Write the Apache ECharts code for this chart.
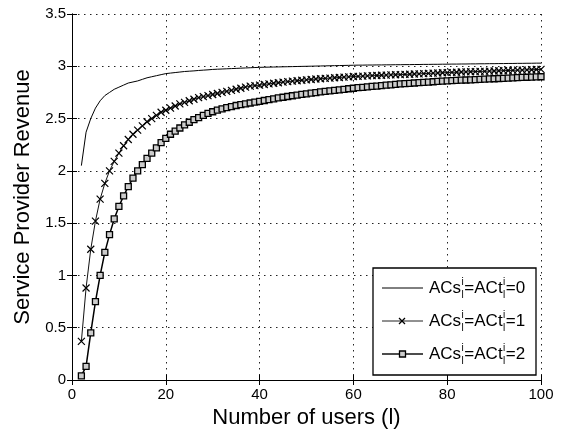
<!DOCTYPE html>
<html>
<head>
<meta charset="utf-8">
<script src="https://cdn.jsdelivr.net/npm/echarts@6/dist/echarts.min.js"></script>
<style>
  html, body { margin: 0; padding: 0; background: #fff; }
  #chart { width: 562px; height: 430px; }
</style>
</head>
<body>
<div id="chart"></div>
<script>
// number of users, 2..100
const users = Array.from({length: 99}, (_, i) => i + 2);

// ACs=ACt=0 (plain line)
const revenue0 = [
  2.05, 2.37, 2.50, 2.60, 2.67, 2.72, 2.75, 2.78, 2.80, 2.82, 2.84, 2.85, 2.86, 2.875, 2.89, 2.90, 2.91, 2.92, 2.93,
  2.935, 2.94, 2.945, 2.95, 2.953, 2.956, 2.96, 2.963, 2.966, 2.97,
  2.972, 2.974, 2.976, 2.978, 2.98, 2.982, 2.984, 2.986, 2.988, 2.99,
  2.991, 2.992, 2.993, 2.994, 2.995, 2.996, 2.997, 2.998, 2.999, 3.0, 3.001, 3.002, 3.003, 3.004, 3.005, 3.006, 3.007, 3.008, 3.009, 3.01,
  3.011, 3.011, 3.012, 3.012, 3.013, 3.013, 3.014, 3.014, 3.015, 3.015, 3.016, 3.016, 3.017, 3.017, 3.018, 3.018, 3.019, 3.019, 3.02, 3.02,
  3.021, 3.021, 3.022, 3.022, 3.023, 3.023, 3.024, 3.024, 3.025, 3.025, 3.026, 3.026, 3.027, 3.027, 3.028, 3.028, 3.029, 3.029, 3.03, 3.03
];

// ACs=ACt=1 (x markers)
const revenue1 = [
  0.37, 0.88, 1.25, 1.52, 1.73, 1.88, 2.00, 2.09, 2.17, 2.24, 2.30, 2.35, 2.39, 2.43, 2.47, 2.50, 2.53, 2.56, 2.58,
  2.60, 2.62, 2.64, 2.655, 2.67, 2.685, 2.70, 2.71, 2.72, 2.73, 2.74, 2.75, 2.76, 2.77, 2.78, 2.79, 2.80, 2.81, 2.815, 2.82,
  2.826, 2.832, 2.838, 2.843, 2.848, 2.853, 2.858, 2.862, 2.866, 2.87, 2.874, 2.878, 2.881, 2.884, 2.887, 2.89, 2.893, 2.896, 2.899, 2.902,
  2.904, 2.906, 2.908, 2.91, 2.912, 2.914, 2.916, 2.918, 2.919, 2.92,
  2.922, 2.924, 2.926, 2.928, 2.93, 2.932, 2.934, 2.936, 2.938, 2.94, 2.942, 2.943, 2.945, 2.946, 2.948, 2.949, 2.951, 2.952, 2.954, 2.955,
  2.957, 2.958, 2.96, 2.961, 2.963, 2.964, 2.966, 2.967, 2.969, 2.97
];

// ACs=ACt=2 (square markers)
const revenue2 = [
  0.04, 0.13, 0.45, 0.75, 1.00, 1.22, 1.39, 1.54, 1.66, 1.76, 1.85, 1.93, 2.00, 2.06, 2.12, 2.17, 2.22, 2.27, 2.31,
  2.35, 2.38, 2.41, 2.44, 2.465, 2.49, 2.51, 2.53, 2.55, 2.565, 2.58, 2.593, 2.605, 2.615, 2.625, 2.633, 2.641, 2.649, 2.657, 2.665,
  2.673, 2.681, 2.689, 2.697, 2.704, 2.711, 2.718, 2.725, 2.731, 2.737, 2.743, 2.749, 2.755, 2.76,
  2.765, 2.77, 2.775, 2.78, 2.785, 2.79, 2.795, 2.799, 2.803, 2.807, 2.811, 2.815, 2.819, 2.823, 2.827, 2.831,
  2.834, 2.837, 2.84, 2.843, 2.846, 2.849, 2.852, 2.855, 2.858, 2.861, 2.863, 2.865, 2.867, 2.869, 2.871, 2.873, 2.875, 2.877, 2.879, 2.881,
  2.883, 2.885, 2.887, 2.889, 2.891, 2.893, 2.895, 2.897, 2.899, 2.90
];

const legendNames = ['0', '1', '2'];

const FONT = '"Liberation Sans", Arial, Helvetica, sans-serif';
const crossPath = 'path://M0,0L10,10M10,0L0,10';

const pair = (ys) => users.map((x, i) => [x, ys[i]]);

const chart = echarts.init(document.getElementById('chart'));

// 图例: 手动画, 上下标叠放
const measure = document.createElement('canvas').getContext('2d');
const textW = (s, size) => { measure.font = size + 'px ' + FONT; return measure.measureText(s).width; };

const legendBox = {x: 373, y: 268, w: 163, h: 107};
const rowY = [288, 321, 354];
const legendGraphics = [{
  type: 'rect',
  shape: {x: legendBox.x, y: legendBox.y, width: legendBox.w, height: legendBox.h},
  style: {fill: '#fff', stroke: '#000', lineWidth: 1.3},
  z: 100
}];
const lineStyles = [
  {stroke: '#000', lineWidth: 1},
  {stroke: '#222', lineWidth: 1},
  {stroke: '#111', lineWidth: 1.6}
];
rowY.forEach((y, k) => {
  legendGraphics.push({
    type: 'line', z: 101,
    shape: {x1: 382, y1: y, x2: 423, y2: y},
    style: lineStyles[k]
  });
  if (k === 1) {
    legendGraphics.push({
      type: 'line', z: 102,
      shape: {x1: 399, y1: y - 3, x2: 405, y2: y + 3},
      style: {stroke: '#000', lineWidth: 1.2}
    });
    legendGraphics.push({
      type: 'line', z: 102,
      shape: {x1: 405, y1: y - 3, x2: 399, y2: y + 3},
      style: {stroke: '#000', lineWidth: 1.2}
    });
  }
  if (k === 2) {
    legendGraphics.push({
      type: 'rect', z: 102,
      shape: {x: 399.5, y: y - 3, width: 6, height: 6},
      style: {fill: '#ccc', stroke: '#000', lineWidth: 1.3}
    });
  }
  // ACs_l^i = ACt_l^i = k
  const big = 17, small = 10;
  let x = 429;
  const parts = ['ACs', null, '=ACt', null, '=' + legendNames[k]];
  parts.forEach(p => {
    if (p === null) {
      legendGraphics.push({type: 'text', z: 102, style: {text: 'i', x: x + 0.5, y: y - 6, font: small + 'px ' + FONT, fill: '#000', verticalAlign: 'middle'}});
      legendGraphics.push({type: 'text', z: 102, style: {text: 'l', x: x + 0.5, y: y + 7, font: small + 'px ' + FONT, fill: '#000', verticalAlign: 'middle'}});
      x += textW('i', small) + 1;
    } else {
      legendGraphics.push({type: 'text', z: 102, style: {text: p, x: x, y: y, font: big + 'px ' + FONT, fill: '#000', verticalAlign: 'middle'}});
      x += textW(p, big);
    }
  });
});

const gridX = {show: true, lineStyle: {color: '#222', type: [1.5, 4.5], width: 1}};
const gridY = {show: true, lineStyle: {color: '#222', type: [1.5, 4.5], width: 1}};
const tickIn = () => ({show: true, inside: true, length: 5, lineStyle: {color: '#000'}});
const axisLineBlack = () => ({show: true, lineStyle: {color: '#000', width: 1}});

const option = {
  backgroundColor: '#fff',
  animation: false,
  grid: {left: 72, right: 21, top: 14, bottom: 50, outerBoundsMode: 'none', containLabel: false},
  xAxis: [{
    type: 'value', min: 0, max: 100, interval: 20,
    name: 'Number of users (l)', nameLocation: 'middle', nameGap: 22,
    nameTextStyle: {fontFamily: FONT, fontSize: 22, color: '#000'},
    axisLine: axisLineBlack(), axisTick: tickIn(), splitLine: gridX,
    axisLabel: {fontFamily: FONT, fontSize: 15, color: '#000', margin: 7}
  }, {
    type: 'value', min: 0, max: 100, interval: 20, position: 'top',
    axisLine: axisLineBlack(), axisTick: tickIn(), splitLine: {show: false},
    axisLabel: {show: false}
  }],
  yAxis: [{
    type: 'value', min: 0, max: 3.5, interval: 0.5,
    name: 'Service Provider Revenue', nameLocation: 'middle', nameGap: 32,
    nameTextStyle: {fontFamily: FONT, fontSize: 22, color: '#000'},
    axisLine: axisLineBlack(), axisTick: tickIn(), splitLine: gridY,
    axisLabel: {fontFamily: FONT, fontSize: 15, color: '#000', margin: 6}
  }, {
    type: 'value', min: 0, max: 3.5, interval: 0.5, position: 'right',
    axisLine: axisLineBlack(), axisTick: tickIn(), splitLine: {show: false},
    axisLabel: {show: false}
  }],
  series: [{
    name: 'ACs=ACt=0', type: 'line', data: pair(revenue0),
    showSymbol: false, symbol: 'none',
    lineStyle: {color: '#000', width: 1}
  }, {
    name: 'ACs=ACt=1', type: 'line', data: pair(revenue1),
    symbol: crossPath, symbolSize: 7,
    itemStyle: {color: 'none', borderColor: '#000', borderWidth: 1.2},
    lineStyle: {color: '#111', width: 1}
  }, {
    name: 'ACs=ACt=2', type: 'line', data: pair(revenue2),
    symbol: 'rect', symbolSize: 6,
    itemStyle: {color: '#ccc', borderColor: '#000', borderWidth: 1.3},
    lineStyle: {color: '#000', width: 1.5}
  }],
  graphic: legendGraphics
};

chart.setOption(option);
</script>
</body>
</html>
